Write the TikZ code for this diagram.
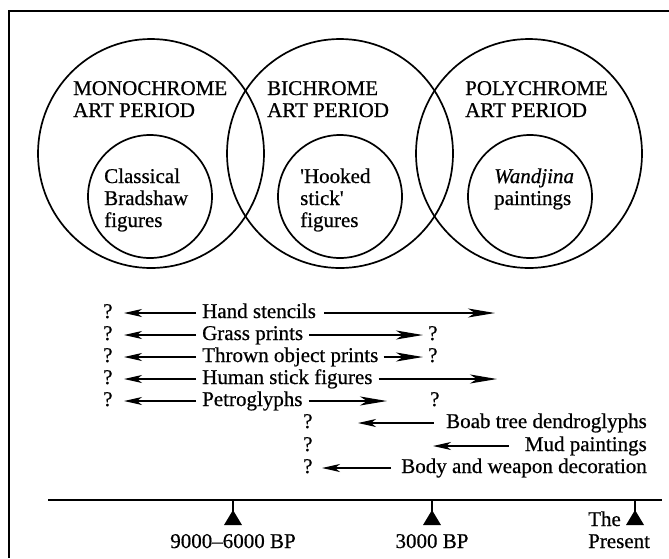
\documentclass[tikz,border=0pt]{standalone}
\usepackage{fontspec}
\setmainfont{Liberation Serif}[FakeBold=0.6]
\usetikzlibrary{shapes.geometric,arrows.meta}
\begin{document}
\begin{tikzpicture}[x=1pt,y=-1pt,
  period/.style={draw,ellipse,line width=1.7pt,inner sep=0pt,minimum width=226pt,minimum height=229pt},
  sub/.style={draw,ellipse,line width=1.7pt,inner sep=0pt,minimum width=124pt,minimum height=123pt},
  head/.style={anchor=base west,align=left,inner sep=0pt,font=\fontsize{21}{22}\selectfont},
  lbl/.style={inner sep=0pt,font=\fontsize{21}{22}\selectfont,text height=14pt,text depth=4pt},
  lar/.style={line width=1.4pt,-{Stealth[length=18pt,width=8pt,inset=5pt]}},
  rar/.style={line width=1.4pt,-{Stealth[length=27pt,width=9pt,inset=7pt]}},
  marker/.style={fill=black}
]
\useasboundingbox (0,0) rectangle (669,558);
\fill[white] (0,0) rectangle (669,558);
% frame
\draw[line width=1.3pt] (669,11) -- (9,11) -- (9,558);

% period ellipses
\node[period] (mono) at (151,153.5) {};
\node[period] (bi)   at (340,153.5) {};
\node[period] (poly) at (529,153.5) {};
\node[sub] (monoin) at (150,196.5) {};
\node[sub] (biin)   at (340,196.5) {};
\node[sub] (polyin) at (530,196.5) {};

% multi-line nodes: base anchor is the baseline of the last line
\node[head] (monot) at (73,117) {MONOCHROME\\ART PERIOD};
\node[head] (bit)   at (267,117) {BICHROME\\ART PERIOD};
\node[head] (polyt) at (465,117) {POLYCHROME\\ART PERIOD};

\node[head] (monoint) at (104,227) {Classical\\Bradshaw\\figures};
\node[head] (biint)   at (300,227) {\textquotesingle Hooked\\stick\textquotesingle\\figures};
\node[head] (polyint) at (494,205) {\textit{Wandjina}\\paintings};

% rows
% 1 Hand stencils
\node[lbl,anchor=base west] (q1) at (103,318) {?};
\node[lbl,anchor=base west] (t1) at (202,318) {Hand stencils};
\coordinate (l1) at (124,313);
\coordinate (r1) at (495,313);
\draw[lar] ([xshift=-6pt]t1.west) -- (l1);
\draw[rar] ([xshift=8pt]t1.east) -- (r1);
% 2 Grass prints
\node[lbl,anchor=base west] (q2) at (103,340) {?};
\node[lbl,anchor=base west] (t2) at (202,340) {Grass prints};
\node[lbl,anchor=base west] (q2r) at (428,340) {?};
\coordinate (l2) at (124,335);
\draw[lar] ([xshift=-6pt]t2.west) -- (l2);
\draw[rar] ([xshift=6pt]t2.east) -- ([xshift=-5pt]q2r.west);
% 3 Thrown object prints
\node[lbl,anchor=base west] (q3) at (103,362) {?};
\node[lbl,anchor=base west] (t3) at (202,362) {Thrown object prints};
\node[lbl,anchor=base west] (q3r) at (428,362) {?};
\coordinate (l3) at (124,357);
\draw[lar] ([xshift=-6pt]t3.west) -- (l3);
\draw[rar] ([xshift=5pt]t3.east) -- ([xshift=-5pt]q3r.west);
% 4 Human stick figures
\node[lbl,anchor=base west] (q4) at (103,384) {?};
\node[lbl,anchor=base west] (t4) at (202,384) {Human stick figures};
\coordinate (l4) at (124,379);
\coordinate (r4) at (497,379);
\draw[lar] ([xshift=-6pt]t4.west) -- (l4);
\draw[rar] ([xshift=6pt]t4.east) -- (r4);
% 5 Petroglyphs
\node[lbl,anchor=base west] (q5) at (103,406) {?};
\node[lbl,anchor=base west] (t5) at (202,406) {Petroglyphs};
\node[lbl,anchor=base west] (q5r) at (430,406) {?};
\coordinate (l5) at (124,401);
\coordinate (r5) at (387,401);
\draw[lar] ([xshift=-6pt]t5.west) -- (l5);
\draw[rar] ([xshift=6pt]t5.east) -- (r5);
% 6 Boab
\node[lbl,anchor=base west] (q6) at (303,428) {?};
\node[lbl,anchor=base east] (t6) at (647,428) {Boab tree dendroglyphs};
\coordinate (l6) at (358,423);
\draw[lar] ([xshift=-12pt]t6.west) -- (l6);
% 7 Mud
\node[lbl,anchor=base west] (q7) at (303,451) {?};
\node[lbl,anchor=base east] (t7) at (647,451) {Mud paintings};
\coordinate (l7) at (433,446);
\draw[lar] ([xshift=-16pt]t7.west) -- (l7);
% 8 Body
\node[lbl,anchor=base west] (q8) at (303,473) {?};
\node[lbl,anchor=base east] (t8) at (647,473) {Body and weapon decoration};
\coordinate (l8) at (322,468);
\draw[lar] ([xshift=-10pt]t8.west) -- (l8);

% timeline
\draw[line width=1.6pt] (48,500) -- (662,500);
\foreach \mx in {233,432,635}{
  \draw[line width=1.4pt] (\mx,500) -- (\mx,512);
  \fill[marker] (\mx,510) -- (\mx+9,525) -- (\mx-9,525) -- cycle;
}
\node[lbl,anchor=base] (d1) at (233,548) {9000--6000 BP};
\node[lbl,anchor=base] (d2) at (432,548) {3000 BP};
\node[head] (d3) at (588,548) {The\\Present};
\end{tikzpicture}
\end{document}
